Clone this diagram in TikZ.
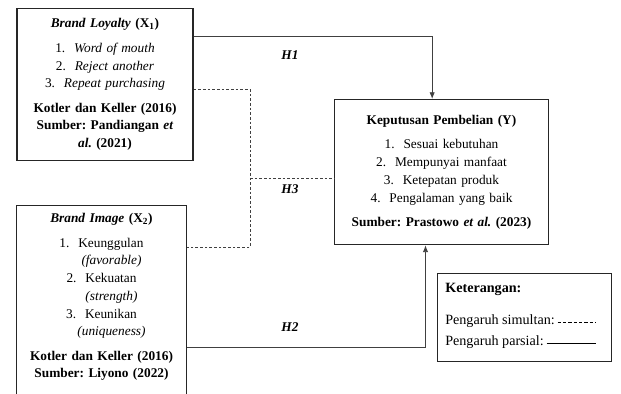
\documentclass[tikz,border=0pt]{standalone}
\usepackage{fontspec}
\setmainfont{Liberation Serif}
\usetikzlibrary{positioning, calc, arrows.meta}
\colorlet{line color}{black!75}
\tikzset{box/.style={draw=black!85, thick, fill=white, anchor=north, align=center, inner sep=2pt, font=\fontsize{10}{13.3}\selectfont}}
\tikzset{frame/.style={draw=black!85, semithick}}
\tikzset{wire/.style={line color, semithick}}
\tikzset{simwire/.style={wire, dashed, dash pattern=on 2pt off 1.5pt}}
\tikzset{hyp/.style={font=\fontsize{10}{12}\selectfont\bfseries\itshape}}
\tikzset{legendtext/.style={font=\fontsize{10.6}{12}\selectfont, anchor=west, inner sep=0pt}}

\begin{document}
\frenchspacing
\begin{tikzpicture}[x=0.75pt, y=-0.75pt]
                \useasboundingbox (0, 0) rectangle (621, 393);
                \clip (0, 0) rectangle (621, 393);
                \node[box, text width=124pt, minimum width=132pt, minimum height=114pt] (brandloyalty) at (105, 8)
                    {\textbf{\textit{Brand Loyalty} (X\textsubscript{1})}\\[5pt]
                     1.\ \ \textit{Word of mouth}\\
                     2.\ \ \textit{Reject another}\\
                     3.\ \ \textit{Repeat purchasing}\\[5pt]
                     \textbf{Kotler dan Keller (2016)}\\
                     \textbf{Sumber: Pandiangan \textit{et}}\\
                     \textbf{\textit{al.} (2021)}};
                \node[box, text width=119pt, minimum width=127pt, inner ysep=6pt] (brandimage) at (101.5, 205)
                    {\textbf{\textit{Brand Image} (X\textsubscript{2})}\\[5pt]
                     1.\ \ Keunggulan\\
                     \hspace{1.5em}\textit{(favorable)}\\
                     2.\ \ Kekuatan\\
                     \hspace{1.5em}\textit{(strength)}\\
                     3.\ \ Keunikan\\
                     \hspace{1.5em}\textit{(uniqueness)}\\[5pt]
                     \textbf{Kotler dan Keller (2016)}\\
                     \textbf{Sumber: Liyono (2022)}\\[6pt]
                     \mbox{}};
                \node[box, text width=152pt, minimum width=160pt, minimum height=109pt] (keputusan) at (441.5, 99)
                    {\textbf{Keputusan Pembelian (Y)}\\[5pt]
                     1.\ \ Sesuai kebutuhan\\
                     2.\ \ Mempunyai manfaat\\
                     3.\ \ Ketepatan produk\\
                     4.\ \ Pengalaman yang baik\\[5pt]
                     \textbf{Sumber: Prastowo \textit{et al.} (2023)}};
                % legend
                \draw[frame] (437, 273) rectangle (611, 361);
                \node[legendtext, font=\fontsize{10.6}{12}\selectfont\bfseries] (keterangan) at (445, 289) {Keterangan:};
                \node[legendtext] (simultan) at (445, 321) {Pengaruh simultan:};
                \node[legendtext] (parsial) at (445, 342) {Pengaruh parsial:};
                \coordinate (simultanend) at (596, 322);
                \coordinate (parsialend) at (596, 343);
                \draw[simwire, black, dash pattern=on 2.5pt off 1.5pt] ([xshift=2pt]simultan.east |- simultanend) -- (simultanend);
                \draw[wire, black] ([xshift=2pt]parsial.east |- parsialend) -- (parsialend);
                % hypotheses
                \coordinate (junction) at (250, 178);
                \draw[wire, -{Latex[length=5pt, width=4pt]}] ([yshift=-21pt]brandloyalty.north east) -| ([xshift=-7pt]keputusan.north);
                \draw[wire, -{Latex[length=5pt, width=4pt]}] ([yshift=-107pt]brandimage.north east) -| ([xshift=-12pt]keputusan.south);
                \draw[simwire] ([yshift=-61pt]brandloyalty.north east) -| (junction) |- ([yshift=-31.5pt]brandimage.north east);
                \draw[simwire] (junction) -- (junction -| keputusan.west);
                \node[hyp] (hone) at (290, 55) {H1};
                \node[hyp] (hthree) at (290, 189) {H3};
                \node[hyp] (htwo) at (290, 327) {H2};
            \end{tikzpicture}
\end{document}
